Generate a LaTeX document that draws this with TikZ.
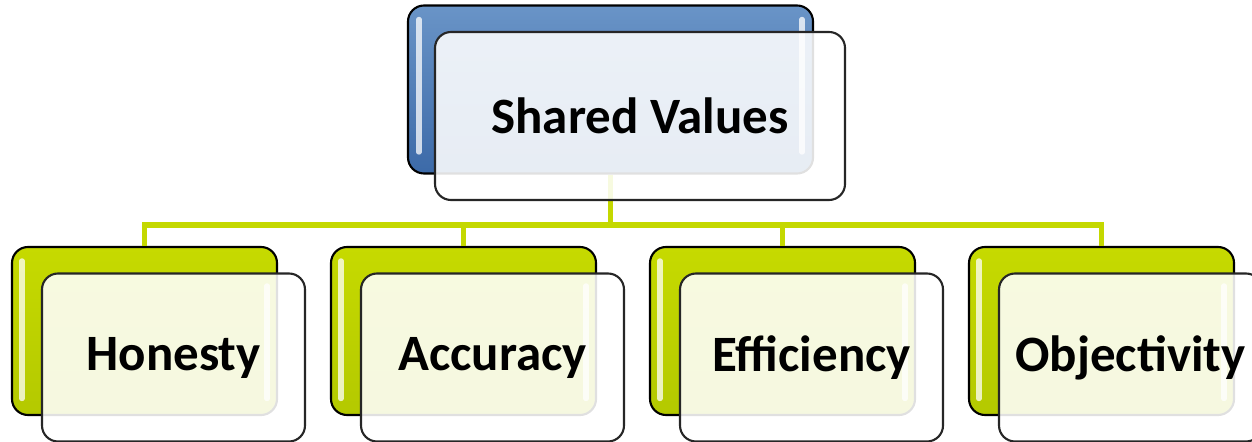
\documentclass[tikz,border=0pt]{standalone}
\usepackage{fontspec}
\setmainfont{Carlito}
\definecolor{valblue}{HTML}{4F81BD}
\definecolor{valbluedark}{HTML}{3C6AA8}
\definecolor{valgreen}{HTML}{C6DA00}
\definecolor{valgreendark}{HTML}{B4C900}
\definecolor{linkgreen}{HTML}{C4D800}
\tikzset{
    backbox/.style={draw=black,line width=1.2pt,rounded corners=0.32cm,
        minimum height=3.36cm,inner sep=0pt},
    bluebox/.style={backbox,minimum width=8.1cm,top color=valblue!85!white,bottom color=valbluedark},
    greenbox/.style={backbox,minimum width=5.3cm,top color=valgreen,bottom color=valgreendark},
    frontbox/.style={draw=black!85,line width=1.2pt,rounded corners=0.32cm,
        minimum height=3.36cm,inner sep=0pt,fill=white,fill opacity=0.88,text opacity=1,
        font=\fontsize{29}{34}\selectfont\bfseries},
    link/.style={linkgreen,line width=3pt},
    gloss/.style={white,line width=3pt,line cap=round,opacity=0.75}
}
\begin{document}
\begin{tikzpicture}
    \useasboundingbox (0,0) rectangle (25.04,8.84);

    % back boxes
    \node[bluebox] (sharedback) at (12.21,7.05) {};
    \node[greenbox] (honback) at (2.89,2.22) {};
    \node[greenbox] (accback) at (9.27,2.22) {};
    \node[greenbox] (effback) at (15.65,2.22) {};
    \node[greenbox] (objback) at (22.03,2.22) {};

    % gloss streaks
    \draw[gloss] ([xshift=0.24cm,yshift=-0.3cm]sharedback.north west) -- ([xshift=0.24cm,yshift=0.45cm]sharedback.south west);
    \draw[gloss] ([xshift=-0.24cm,yshift=-0.3cm]sharedback.north east) -- ([xshift=-0.24cm,yshift=0.45cm]sharedback.south east);
    \draw[gloss] ([xshift=0.22cm,yshift=-0.3cm]honback.north west) -- ([xshift=0.22cm,yshift=0.35cm]honback.south west);
    \draw[gloss] ([xshift=-0.22cm,yshift=-0.8cm]honback.north east) -- ([xshift=-0.22cm,yshift=0.35cm]honback.south east);
    \draw[gloss] ([xshift=0.22cm,yshift=-0.3cm]accback.north west) -- ([xshift=0.22cm,yshift=0.35cm]accback.south west);
    \draw[gloss] ([xshift=-0.22cm,yshift=-0.8cm]accback.north east) -- ([xshift=-0.22cm,yshift=0.35cm]accback.south east);
    \draw[gloss] ([xshift=0.22cm,yshift=-0.3cm]effback.north west) -- ([xshift=0.22cm,yshift=0.35cm]effback.south west);
    \draw[gloss] ([xshift=-0.22cm,yshift=-0.8cm]effback.north east) -- ([xshift=-0.22cm,yshift=0.35cm]effback.south east);
    \draw[gloss] ([xshift=0.22cm,yshift=-0.3cm]objback.north west) -- ([xshift=0.22cm,yshift=0.35cm]objback.south west);
    \draw[gloss] ([xshift=-0.22cm,yshift=-0.8cm]objback.north east) -- ([xshift=-0.22cm,yshift=0.35cm]objback.south east);

    % connectors
    \coordinate (bus) at (12.21,4.34);
    \draw[link] (sharedback.south) -- (bus);
    \draw[link,line join=miter] (bus) -| (honback.north);
    \draw[link] (bus) -| (accback.north);
    \draw[link] (bus) -| (effback.north);
    \draw[link,line join=miter] (bus) -| (objback.north);

    % front boxes
    \node[frontbox,minimum width=8.2cm] (shared) at (12.8,6.52) {Shared Values};
    \node[frontbox,minimum width=5.26cm] (honesty) at (3.47,1.69) {Honesty};
    \node[frontbox,minimum width=5.26cm] (accuracy) at (9.85,1.69) {Accuracy};
    \node[frontbox,minimum width=5.26cm] (efficiency) at (16.23,1.69) {Efficiency};
    \node[frontbox,minimum width=5.26cm] (objectivity) at (22.61,1.69) {Objectivity};
\end{tikzpicture}
\end{document}
